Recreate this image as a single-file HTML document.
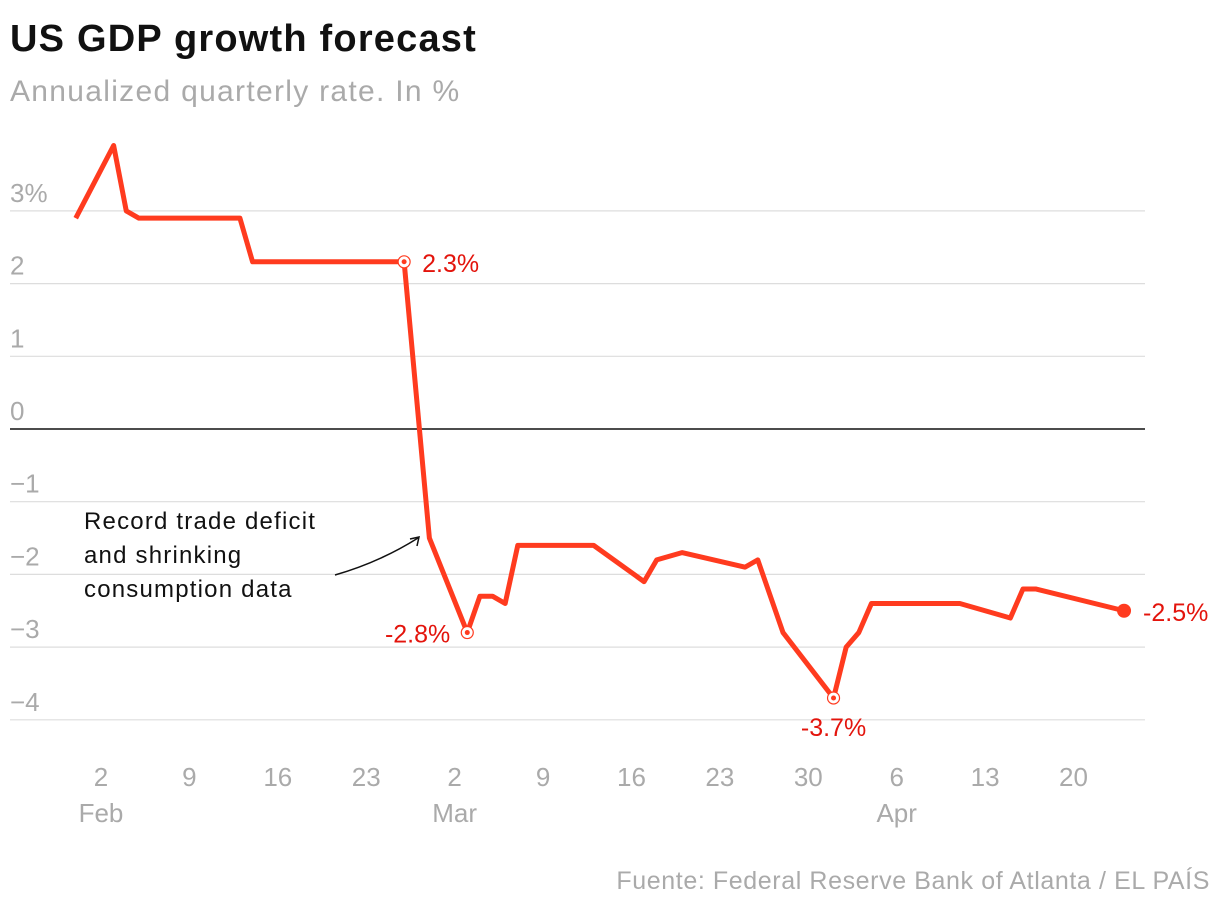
<!DOCTYPE html>
<html><head><meta charset="utf-8"><style>
body{margin:0;background:#fff;width:1220px;height:908px;overflow:hidden;font-family:"Liberation Sans",sans-serif}
</style></head><body>
<svg width="1220" height="908">
<text x="10" y="51" font-size="38" font-weight="bold" fill="#111" letter-spacing="1.2">US GDP growth forecast</text>
<text x="10" y="101" font-size="30" fill="#aaa" letter-spacing="1.3">Annualized quarterly rate. In %</text>
<g id="grid"></g><g id="xax"></g>
<path d="M335,575 Q380,562 418,538" fill="none" stroke="#111" stroke-width="1.5"/>
<path d="M410,539 L419,537 L417,546" fill="none" stroke="#111" stroke-width="1.5"/>
<g font-size="24" fill="#111" letter-spacing="1.2">
<text x="84" y="529">Record trade deficit</text>
<text x="84" y="563">and shrinking</text>
<text x="84" y="597">consumption data</text></g>
<g id="series"></g>
<text x="1210" y="889" font-size="25" fill="#aaa" text-anchor="end" letter-spacing="0.6">Fuente: Federal Reserve Bank of Atlanta / EL PAÍS</text>
</svg>
<script>
const days=[-2,1,2,3,11,12,24,26,29,30,31,32,33,39,43,44,46,51,52,54,58,59,60,61,68,72,73,74,81];
const values=[2.9,3.9,3.0,2.9,2.9,2.3,2.3,-1.5,-2.8,-2.3,-2.3,-2.4,-1.6,-1.6,-2.1,-1.8,-1.7,-1.9,-1.8,-2.8,-3.7,-3.0,-2.8,-2.4,-2.4,-2.6,-2.2,-2.2,-2.5];
const yTicks=[3,2,1,0,-1,-2,-3,-4];
const yLabels=["3%","2","1","0","−1","−2","−3","−4"];
const xTickDays=[0,7,14,21,28,35,42,49,56,63,70,77];
const xTickLabels=["2","9","16","23","2","9","16","23","30","6","13","20"];
const monthLabels=[["Feb",0],["Mar",28],["Apr",63]];
const callouts=[[6,"2.3%","right"],[8,"-2.8%","left"],[20,"-3.7%","below"],[28,"-2.5%","end"]];
const X=d=>101+d*12.63, Y=v=>429-v*72.7;
const NS="http://www.w3.org/2000/svg";
function mk(t,a,p){const e=document.createElementNS(NS,t);for(const k in a)e.setAttribute(k,a[k]);p.appendChild(e);return e;}
const g=document.getElementById('grid');
yTicks.forEach((v,i)=>{
 const l=mk('line',{x1:10,x2:1145,y1:Y(v),y2:Y(v),stroke:v===0?'#111':'#ddd','stroke-width':v===0?1.5:1.2},g);
 
 
 const t=mk('text',{x:10,y:Y(v)-9,'font-size':26,fill:'#aaa'},g);t.textContent=yLabels[i];
 
 
});
const xa=document.getElementById('xax');
xTickDays.forEach((d,i)=>{const t=mk('text',{x:X(d),y:786,'font-size':26,fill:'#aaa','text-anchor':'middle'},xa);t.textContent=xTickLabels[i];
 
 });
monthLabels.forEach(m=>{const t=mk('text',{x:X(m[1]),y:822,'font-size':26,fill:'#aaa','text-anchor':'middle'},xa);t.textContent=m[0];
 
 });
const s=document.getElementById('series');
const p=mk('polyline',{points:days.map((d,i)=>X(d)+','+Y(values[i])).join(' '),fill:'none',stroke:'#ff3b1f','stroke-width':5,'stroke-linejoin':'round'},s);


callouts.forEach(c=>{
 const x=X(days[c[0]]),y=Y(values[c[0]]);
 if(c[2]==='end'){const e=mk('circle',{cx:x,cy:y,r:7,fill:'#ff3b1f'},s);}
 else{const e=mk('circle',{cx:x,cy:y,r:6,fill:'#fff',stroke:'#ff3b1f','stroke-width':1.2},s);mk('circle',{cx:x,cy:y,r:2.5,fill:'#ff3b1f'},s);}
 let tx=x+18,ty=y+10,a='start';
 if(c[2]==='left'){tx=x-17;a='end';}
 if(c[2]==='below'){tx=x;ty=y+38;a='middle';}
 if(c[2]==='end'){tx=x+19;}
 const t=mk('text',{x:tx,y:ty,'font-size':25,fill:'#e3140c','text-anchor':a},s);t.textContent=c[1];
 
 
});
</script>
</body></html>
